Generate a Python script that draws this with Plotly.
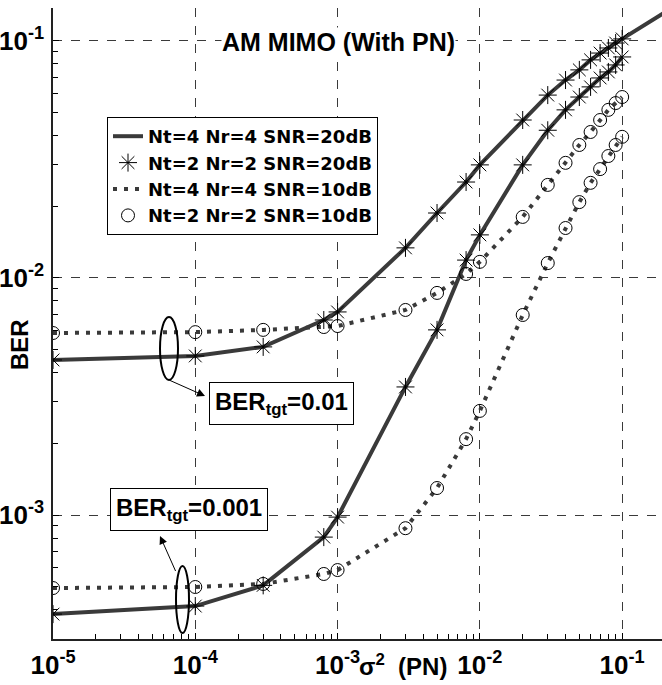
import plotly.graph_objects as go

# ---------------- data ----------------
x_pts = [1e-5, 1e-4, 3e-4, 8e-4, 1e-3, 3e-3, 5e-3, 8e-3, 1e-2, 2e-2,
         3e-2, 4e-2, 5e-2, 6e-2, 7e-2, 8e-2, 9e-2, 1e-1]

# BER target 0.01
ber01_snr20 = [0.00451, 0.00469, 0.00512, 0.00665, 0.00719, 0.0134, 0.0188, 0.0254, 0.0300, 0.0464,
               0.0591, 0.0684, 0.0755, 0.0832, 0.0889, 0.0934, 0.0980, 0.102]
ber01_snr10 = [0.00586, 0.00591, 0.00604, 0.00621, 0.00627, 0.00733, 0.00865, 0.0104, 0.0117, 0.0181,
               0.0247, 0.0306, 0.0364, 0.0413, 0.0464, 0.0512, 0.0547, 0.0580]
# BER target 0.001
ber001_snr20 = [0.000382, 0.000413, 0.000505, 0.000807, 0.00098, 0.00347, 0.00604, 0.0119, 0.0152, 0.0300,
                0.0420, 0.0512, 0.0580, 0.0640, 0.0698, 0.0740, 0.0792, 0.0856]
ber001_snr10 = [0.000492, 0.000497, 0.000512, 0.000564, 0.000586, 0.00088, 0.00130, 0.00209, 0.00275, 0.00698,
                0.01156, 0.01625, 0.0209, 0.0252, 0.0288, 0.0327, 0.0364, 0.0394]

# the upper SNR=20dB curve continues past the last marker
x_ext = [0.2]
ber01_snr20_ext = [0.132]

labels = ["Nt=4 Nr=4 SNR=20dB", "Nt=2 Nr=2 SNR=20dB",
          "Nt=4 Nr=4 SNR=10dB", "Nt=2 Nr=2 SNR=10dB"]

x_tickvals = [1e-5, 1e-4, 1e-3, 1e-2, 1e-1]
x_ticktext = ["10<sup>-5</sup>", "10<sup>-4</sup>", "10<sup>-3</sup>", "10<sup>-2</sup>", "10<sup>-1</sup>"]
y_tickvals = [1e-3, 1e-2, 1e-1]
y_ticktext = ["10<sup>-3</sup>", "10<sup>-2</sup>", "10<sup>-1</sup>"]

# ---------------- figure ----------------
FONT = "Liberation Sans, Arial, Helvetica, sans-serif"
LFONT = "DejaVu Sans, Liberation Sans, sans-serif"
LINE_C = "#3a3a3a"
DOT = "4px,7px"

fig = go.Figure()

# solid lines
fig.add_trace(go.Scatter(x=x_pts + x_ext, y=ber01_snr20 + ber01_snr20_ext, mode="lines",
                         line=dict(color=LINE_C, width=4), name=labels[0],
                         legendgroup="g1", legendrank=1, showlegend=True))
fig.add_trace(go.Scatter(x=x_pts, y=ber001_snr20, mode="lines",
                         line=dict(color=LINE_C, width=4), name=labels[0],
                         legendgroup="g1", legendrank=1, showlegend=False))
# dotted lines
fig.add_trace(go.Scatter(x=x_pts, y=ber01_snr10, mode="lines",
                         line=dict(color=LINE_C, width=4, dash=DOT), name=labels[2],
                         legendgroup="g3", legendrank=3, showlegend=True))
fig.add_trace(go.Scatter(x=x_pts, y=ber001_snr10, mode="lines",
                         line=dict(color=LINE_C, width=4, dash=DOT), name=labels[2],
                         legendgroup="g3", legendrank=3, showlegend=False))
# star markers
fig.add_trace(go.Scatter(x=x_pts + [None] + x_pts, y=ber01_snr20 + [None] + ber001_snr20,
                         mode="markers",
                         marker=dict(symbol="asterisk-open", size=15, color="black",
                                     line=dict(color="black", width=1)),
                         name=labels[1], legendgroup="g2", legendrank=2))
# circle markers
fig.add_trace(go.Scatter(x=x_pts + [None] + x_pts, y=ber01_snr10 + [None] + ber001_snr10,
                         mode="markers",
                         marker=dict(symbol="circle-open", size=13, color="black",
                                     line=dict(color="black", width=1)),
                         name=labels[3], legendgroup="g4", legendrank=4))

# ---------------- layout ----------------
L, T, B = 53, 8, 46
W, H = 662, 685
PW, PH = W - L, H - T - B


def px(xp):
    return (xp - L) / PW


def py(yp):
    return (H - B - yp) / PH


minor_x = [m * 10.0 ** e for e in range(-5, 0) for m in range(2, 10)]
minor_y = [m * 10.0 ** e for e in range(-4, 0) for m in range(2, 10)]

axis_common = dict(
    type="log", tickmode="array",
    showline=True, linecolor="#222222", linewidth=1.5, mirror=False,
    ticks="inside", ticklen=6, tickcolor="black",
    showgrid=True, gridcolor="#3a3a3a", gridwidth=1, griddash="dash",
    zeroline=False,
    tickfont=dict(family=FONT, size=26, color="black", weight="bold"),
)

fig.update_xaxes(range=[-5, -0.72], tickvals=x_tickvals, ticktext=x_ticktext,
                 minor=dict(tickmode="array", tickvals=minor_x, ticks="inside", ticklen=5,
                            tickwidth=1, tickcolor="black", showgrid=False),
                 ticklabelstandoff=2,
                 **axis_common)
fig.update_yaxes(range=[-3.523, -0.861], tickvals=y_tickvals, ticktext=y_ticktext,
                 minor=dict(tickmode="array", tickvals=minor_y, ticks="inside", ticklen=5,
                            tickwidth=1, tickcolor="black", showgrid=False),
                 ticklabelstandoff=2,
                 **axis_common)

bold = lambda s, f=FONT: dict(family=f, size=s, color="black", weight="bold")

annotations = [
    dict(text="AM MIMO (With PN)", x=px(338), y=py(42), xref="paper", yref="paper",
         xanchor="center", yanchor="middle", showarrow=False, bgcolor="white",
         borderpad=0, font=bold(25)),
    dict(text="BER", x=px(20), y=py(345), xref="paper", yref="paper", textangle=-90,
         xanchor="center", yanchor="middle", showarrow=False, font=bold(24)),
    dict(text="σ<sup>2</sup>  (PN)", x=px(403), y=py(665), xref="paper", yref="paper",
         xanchor="center", yanchor="middle", showarrow=False, font=bold(24)),
    dict(text="BER<sub>tgt</sub>=0.01", x=px(281), y=py(404), xref="paper", yref="paper",
         xanchor="center", yanchor="middle",
         showarrow=False, bgcolor="white", bordercolor="black", borderwidth=1, borderpad=5,
         font=bold(24)),
    dict(text="BER<sub>tgt</sub>=0.001", x=px(189), y=py(509), xref="paper", yref="paper",
         xanchor="center", yanchor="middle",
         showarrow=False, bgcolor="white", bordercolor="black", borderwidth=1, borderpad=5,
         font=bold(24)),
    # arrows (head at box, tail at ellipse)
    dict(text=" ", font=dict(size=1), borderpad=0, x=px(205), y=py(396), xref="paper", yref="paper",
         ax=169 - 205, ay=380 - 396, showarrow=True, arrowhead=2, arrowsize=1.6,
         arrowwidth=1, arrowcolor="black"),
    dict(text=" ", font=dict(size=1), borderpad=0, x=px(160), y=py(536), xref="paper", yref="paper",
         ax=176 - 160, ay=572 - 536, showarrow=True, arrowhead=2, arrowsize=1.6,
         arrowwidth=1, arrowcolor="black"),
]

shapes = [
    dict(type="circle", xref="paper", yref="paper", x0=px(160), x1=px(178),
         y0=py(380), y1=py(317), line=dict(color="black", width=2)),
    dict(type="circle", xref="paper", yref="paper", x0=px(176), x1=px(189),
         y0=py(633), y1=py(566), line=dict(color="black", width=2)),
]

fig.update_layout(
    width=W, height=H,
    margin=dict(l=L, r=0, t=T, b=B),
    plot_bgcolor="white", paper_bgcolor="white",
    font=dict(family=FONT, color="black"),
    annotations=annotations, shapes=shapes,
    legend=dict(x=px(107), y=py(117), xanchor="left", yanchor="top",
                bgcolor="white", bordercolor="black", borderwidth=1,
                font=bold(18, LFONT), traceorder="normal", tracegroupgap=0),
)

fig.write_html("out.html")
